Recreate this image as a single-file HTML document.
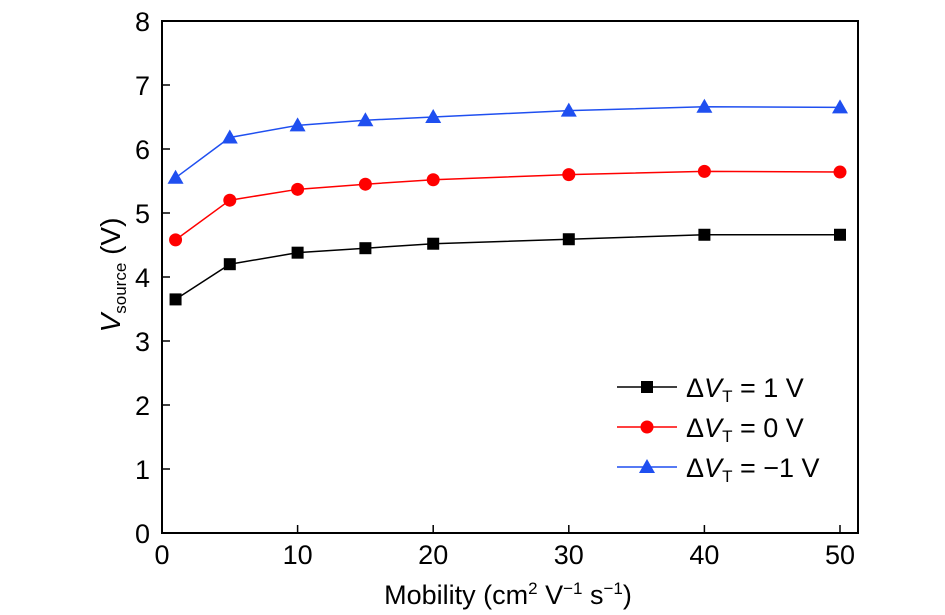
<!DOCTYPE html>
<html><head><meta charset="utf-8"><style>
body{margin:0;background:#fff;}
svg{display:block;font-family:"Liberation Sans",sans-serif;}
</style></head><body>
<svg id="chart" width="945" height="615">
<g id="axes"></g>
<g id="series"></g>
<text x="120" y="275" font-size="28" text-anchor="middle" transform="rotate(-90 120 275)"><tspan font-style="italic">V</tspan><tspan font-size="17" dy="6">source</tspan><tspan dy="-6"> (V)</tspan></text>
<text x="508" y="604" font-size="27" text-anchor="middle">Mobility (cm<tspan font-size="17" dy="-10">2</tspan><tspan dy="10"> V</tspan><tspan font-size="17" dy="-10">−1</tspan><tspan dy="10"> s</tspan><tspan font-size="17" dy="-10">−1</tspan><tspan dy="10">)</tspan></text>
<g id="legend"></g>
</svg>
<script>
const xValues=[1,5,10,15,20,30,40,50];
const seriesA=[3.65,4.2,4.38,4.45,4.52,4.59,4.66,4.66];
const seriesB=[4.58,5.2,5.37,5.45,5.52,5.6,5.65,5.64];
const seriesC=[5.55,6.18,6.37,6.45,6.5,6.6,6.66,6.65];
const xTicks=[0,10,20,30,40,50];
const yTicks=[0,1,2,3,4,5,6,7,8];
const seriesNames=["1 V","0 V","−1 V"];
const NS="http://www.w3.org/2000/svg";
const X0=162,X1=858,Y0=533,Y1=21;
const sx=v=>X0+v*(840-162)/50;
const sy=v=>Y0-v*(Y0-Y1)/8;
function mk(t,a,p){const e=document.createElementNS(NS,t);for(const k in a)e.setAttribute(k,a[k]);p.appendChild(e);return e;}
const ax=document.getElementById('axes');
const fr=mk('rect',{x:X0,y:Y1,width:X1-X0,height:Y0-Y1,fill:'none',stroke:'#000','stroke-width':2},ax);


xTicks.forEach(t=>{const l=mk('line',{x1:sx(t),x2:sx(t),y1:Y0,y2:Y0-8,stroke:'#000','stroke-width':1.5},ax);


const tx=mk('text',{x:sx(t),y:Y0+31,'font-size':27,'text-anchor':'middle'},ax);tx.textContent=t;

});
yTicks.forEach(t=>{const l=mk('line',{x1:X0,x2:X0+8,y1:sy(t),y2:sy(t),stroke:'#000','stroke-width':1.5},ax);


const tx=mk('text',{x:X0-12,y:sy(t)+10,'font-size':27,'text-anchor':'end'},ax);tx.textContent=t;

});
const sg=document.getElementById('series');
function marker(kind,x,y,c,p){let e;
if(kind==='sq')e=mk('rect',{x:x-6,y:y-6,width:12,height:12,fill:c},p);
else if(kind==='ci')e=mk('circle',{cx:x,cy:y,r:6.5,fill:c},p);
else e=mk('polygon',{points:`${x},${y-8} ${x-8},${y+6} ${x+8},${y+6}`,fill:c},p);

}
const defs=[[seriesA,'#000','sq'],[seriesB,'#f00','ci'],[seriesC,'#1f4ff0','tr']];
defs.forEach(([d,c,k],i)=>{
const pl=mk('polyline',{points:d.map((v,j)=>sx(xValues[j])+','+sy(v)).join(' '),fill:'none',stroke:c,'stroke-width':1.5},sg);


d.forEach((v,j)=>marker(k,sx(xValues[j]),sy(v),c,sg));
const lg=document.getElementById('legend');const ly=387+i*40;
const ll=mk('line',{x1:617,x2:677,y1:ly,y2:ly,stroke:c,'stroke-width':1.5},lg);


marker(k,647,ly,c,lg);
const t=mk('text',{x:686,y:ly+10,'font-size':27},lg);
t.innerHTML='Δ<tspan font-style="italic">V</tspan><tspan font-size="17" dy="5">T</tspan><tspan dy="-5"> = '+seriesNames[i]+'</tspan>';


});
</script>
</body></html>
